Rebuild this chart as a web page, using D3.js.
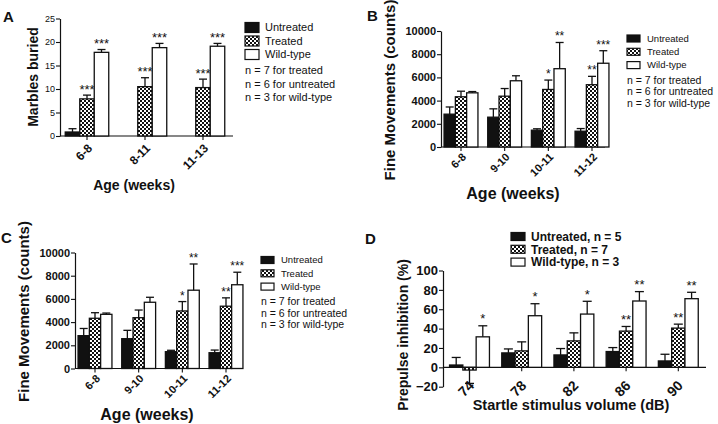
<!DOCTYPE html>
<html><head><meta charset="utf-8">
<script src="https://cdn.jsdelivr.net/npm/d3@7"></script>
<style>body{margin:0;background:#fff} svg{display:block} text{font-family:"Liberation Sans",Arial,sans-serif;fill:#111}</style>
</head><body><svg id="c" width="718" height="424"></svg>
<script>
const seriesNames = ["Untreated","Treated","Wild-type"];

// Panel A: marbles buried
const marbleAges = ["6-8","8-11","11-13"];
const marbleUntreated = [0.85,0,0];
const marbleUntreatedErr = [0.7,0,0];
const marbleTreated = [7.9,10.5,10.3];
const marbleTreatedErr = [0.8,1.9,1.8];
const marbleWild = [17.8,18.8,19.1];
const marbleWildErr = [0.6,0.9,0.6];
const marbleStars = [["","",""],["***","***","***"],["***","***","***"]];
const marbleTicks = [0,5,10,15,20,25];
const notes = ["n = 7 for treated","n = 6 for untreated","n = 3 for wild-type"];

// Panels B & C: fine movements
const fineAges = ["6-8","9-10","10-11","11-12"];
const fineUntreated = [2830,2570,1450,1360];
const fineUntreatedErr = [620,720,120,230];
const fineTreated = [4330,4380,4960,5370];
const fineTreatedErr = [480,660,810,720];
const fineWild = [4670,5710,6750,7220];
const fineWildErr = [110,430,2260,1080];
const fineStars = [["","","",""],["","","*","**"],["","","**","***"]];
const fineTicks = [0,2000,4000,6000,8000,10000];

// Panel D: prepulse inhibition
const volumes = ["74","78","82","86","90"];
const ppiUntreated = [2.4,14.9,12.8,16.3,6.6];
const ppiUntreatedErr = [7.8,4.1,6.6,4.1,6.9];
const ppiTreated = [-2.8,17,27.3,37.4,40.5];
const ppiTreatedErr = [13.8,9.3,8.3,4.8,4.1];
const ppiWild = [31.5,53.3,55,68.5,70.9];
const ppiWildErr = [11.4,12.4,13.2,9.7,6.6];
const ppiStars = [["","","","",""],["","","","**","**"],["*","*","*","**","**"]];
const ppiTicks = [-20,0,20,40,60,80,100];
const ppiLegend = ["Untreated, n = 5","Treated, n = 7","Wild-type, n = 3"];

const svg = d3.select("#c");
const defs = svg.append("defs");
const pat = defs.append("pattern").attr("id","chk").attr("patternUnits","userSpaceOnUse")
  .attr("width",4).attr("height",4);
pat.append("rect").attr("width",4).attr("height",4).attr("fill","#fff");
pat.append("rect").attr("width",2).attr("height",2).attr("fill","#111");
pat.append("rect").attr("x",2).attr("y",2).attr("width",2).attr("height",2).attr("fill","#111");
const fills = ["#111","url(#chk)","#fff"];

function panel(c) {
  const g = svg.append("g");
  const x = d3.scalePoint().domain(c.groups).range(c.centers).padding(0);
  const y = d3.scaleLinear().domain(c.domain).range(c.yRange);
  // y axis
  const ya = g.append("g").attr("transform",`translate(${c.axisX},0)`)
    .call(d3.axisLeft(y).tickValues(c.ticks).tickSize(4).tickSizeOuter(0).tickPadding(1)
      .tickFormat(d3.format("d")));
  ya.select(".domain").attr("stroke","#111").attr("stroke-width",1.2);
  ya.selectAll(".tick line").attr("stroke","#111").attr("stroke-width",1.1);
  ya.selectAll(".tick text").style("font-size",c.yTickSize+"px").style("font-weight",c.yTickWeight)
    .style("font-family","'Liberation Sans',Arial,sans-serif").attr("fill","#111");
  // x axis line at zero
  const y0 = y(0);
  g.append("line").attr("x1",c.axisX).attr("x2",c.axisEnd).attr("y1",y0).attr("y2",y0)
    .attr("stroke","#111").attr("stroke-width",1.2);
  g.selectAll(".xt").data(c.groups).enter().append("line")
    .attr("x1",d=>x(d)).attr("x2",d=>x(d)).attr("y1",y0).attr("y2",y0+4)
    .attr("stroke","#111").attr("stroke-width",1.1);
  g.selectAll(".xl").data(c.groups).enter().append("text")
    .attr("transform",d=>`translate(${x(d)+c.xlab[0]},${c.xlabY})rotate(-45)`)
    .attr("text-anchor","end").attr("dy","0.35em")
    .style("font-size",c.xTickSize+"px").style("font-weight","bold").text(d=>d);
  // bars
  c.series.forEach((s,si)=>{
    c.groups.forEach((grp,i)=>{
      const v = s.v[i], e = s.e[i];
      const xc = x(grp) + (si-1)*c.bw;
      if (v !== 0) {
        g.append("rect").attr("x",xc-c.bw/2).attr("width",c.bw)
          .attr("y",y(Math.max(v,0))).attr("height",Math.abs(y(v)-y(0)))
          .attr("fill",fills[si]).attr("stroke","#111").attr("stroke-width",1.3);
      }
      let tip = v;
      if (e > 0) {
        tip = v >= 0 ? v + e : v - e;
        g.append("line").attr("x1",xc).attr("x2",xc).attr("y1",y(v)).attr("y2",y(tip))
          .attr("stroke","#111").attr("stroke-width",1.3);
        g.append("line").attr("x1",xc-c.cap/2).attr("x2",xc+c.cap/2).attr("y1",y(tip)).attr("y2",y(tip))
          .attr("stroke","#111").attr("stroke-width",1.3);
      }
      const st = s.stars[i];
      if (st) {
        g.append("text").attr("x",xc).attr("y",y(tip)-c.starGap).attr("text-anchor","middle")
          .attr("dy","0.58em")
          .style("font-size",c.starSize+"px").text(st);
      }
    });
  });
  // titles
  g.append("text").attr("transform",`translate(${c.yTitle[0]},${c.yTitle[1]})rotate(-90)`)
    .attr("text-anchor","middle").attr("dy","0.35em")
    .style("font-size",c.yTitle[2]+"px").style("font-weight","bold").text(c.yTitleText);
  g.append("text").attr("x",c.xTitle[0]).attr("y",c.xTitle[1]).attr("text-anchor","middle").attr("dy","0.35em")
    .style("font-size",c.xTitle[2]+"px").style("font-weight","bold").text(c.xTitleText);
  g.append("text").attr("x",c.letter[0]).attr("y",c.letter[1])
    .style("font-size","15px").style("font-weight","bold").text(c.letterText);
  // legend
  const L = c.legend;
  L.labels.forEach((lab,i)=>{
    const cy = L.y + i*L.dy;
    g.append("rect").attr("x",L.x).attr("y",cy-L.h/2).attr("width",L.w).attr("height",L.h)
      .attr("fill",fills[i]).attr("stroke","#111").attr("stroke-width",1.2);
    g.append("text").attr("x",L.tx).attr("y",cy).attr("dy","0.35em")
      .style("font-size",L.size+"px").style("font-weight",L.weight).text(lab);
  });
  if (c.notes) {
    c.notes.lines.forEach((t,i)=>{
      g.append("text").attr("x",c.notes.x).attr("y",c.notes.y+i*c.notes.dy).attr("dy","0.35em")
        .style("font-size",c.notes.size+"px").text(t);
    });
  }
}

panel({
  groups: marbleAges, centers:[87,203], axisX:60, axisEnd:233,
  domain:[0,25], yRange:[136,18.5], ticks: marbleTicks, yTickSize:9, yTickWeight:"normal",
  xTickSize:12, xlab:[3], xlabY:146,
  bw:14.5, cap:8, starGap:9, starSize:13,
  series:[
    {v:marbleUntreated,e:marbleUntreatedErr,stars:marbleStars[0]},
    {v:marbleTreated,e:marbleTreatedErr,stars:marbleStars[1]},
    {v:marbleWild,e:marbleWildErr,stars:marbleStars[2]}],
  yTitle:[33,77,14], yTitleText:"Marbles buried",
  xTitle:[134,185,14], xTitleText:"Age (weeks)",
  letter:[3,22], letterText:"A",
  legend:{labels:seriesNames,x:245,w:14,h:10,y:27.5,dy:13.5,tx:265,size:11,weight:"normal"},
  notes:{lines:notes,x:245,y:70.5,dy:13.2,size:11}
});

function finePanel(dx,dy,letter) {
  panel({
    groups: fineAges, centers:[461+dx,592+dx], axisX:441+dx, axisEnd:605+dx,
    domain:[0,10000], yRange:[147+dy,31+dy], ticks: fineTicks, yTickSize:11, yTickWeight:"bold",
    xTickSize:11, xlab:[3], xlabY:155+dy,
    bw:11.3, cap:8, starGap:9, starSize:12,
    series:[
      {v:fineUntreated,e:fineUntreatedErr,stars:fineStars[0]},
      {v:fineTreated,e:fineTreatedErr,stars:fineStars[1]},
      {v:fineWild,e:fineWildErr,stars:fineStars[2]}],
    yTitle:[390+dx,90+dy,15], yTitleText:"Fine Movements (counts)",
    xTitle:[513+dx,193+dy,16], xTitleText:"Age (weeks)",
    letter:[367+dx,21+dy], letterText:letter,
    legend:{labels:seriesNames,x:627+dx,w:13,h:7,y:38.5+dy,dy:13.3,tx:647+dx,size:9.5,weight:"normal"},
    notes:{lines:notes,x:627+dx,y:80+dy,dy:11.6,size:10.5}
  });
}
finePanel(0,0,"B");
finePanel(-366,221.5,"C");

panel({
  groups: volumes, centers:[469.5,678.3], axisX:443, axisEnd:706,
  domain:[-20,100], yRange:[386.7,270.5], ticks: ppiTicks, yTickSize:13, yTickWeight:"bold",
  xTickSize:14, xlab:[2], xlabY:383,
  bw:13.3, cap:9, starGap:10, starSize:13,
  series:[
    {v:ppiUntreated,e:ppiUntreatedErr,stars:ppiStars[0]},
    {v:ppiTreated,e:ppiTreatedErr,stars:ppiStars[1]},
    {v:ppiWild,e:ppiWildErr,stars:ppiStars[2]}],
  yTitle:[403,335,14], yTitleText:"Prepulse inhibition (%)",
  xTitle:[571,405,14.5], xTitleText:"Startle stimulus volume (dB)",
  letter:[365,244], letterText:"D",
  legend:{labels:ppiLegend,x:511,w:14,h:8,y:236.5,dy:12.8,tx:531,size:12,weight:"bold"}
});
</script></body></html>
